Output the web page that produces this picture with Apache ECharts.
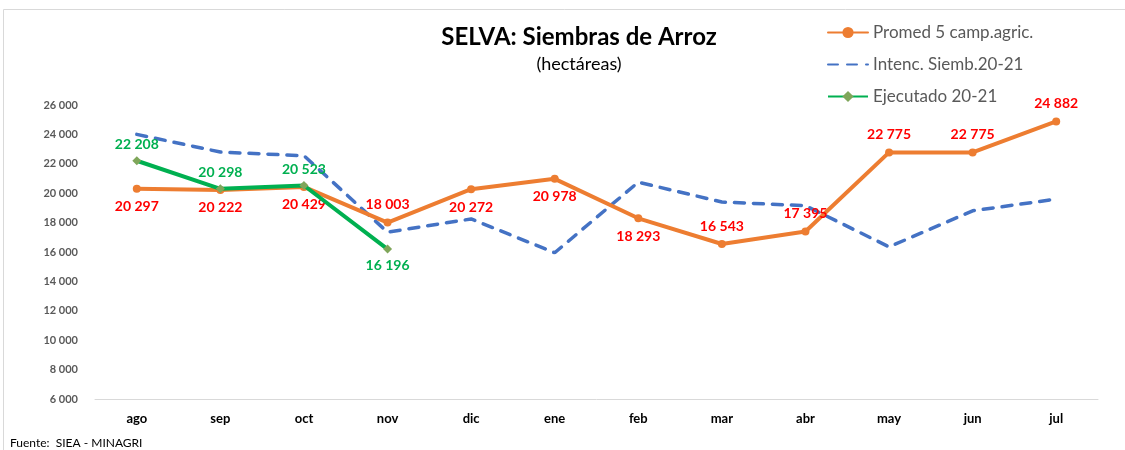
<!DOCTYPE html>
<html>
<head>
<meta charset="utf-8">
<script src="https://cdn.jsdelivr.net/npm/echarts@6/dist/echarts.min.js"></script>
<style>
html,body{margin:0;padding:0;background:#fff;}
#main{width:1125px;height:450px;}
</style>
</head>
<body>
<div id="main"></div>
<script>
var meses = ['ago','sep','oct','nov','dic','ene','feb','mar','abr','may','jun','jul'];
var promedio = [20297,20222,20429,18003,20272,20978,18293,16543,17395,22775,22775,24882];
var intencion = [24000,22800,22550,17350,18250,15950,20750,19400,19150,16350,18800,19600];
var ejecutado = [22208,20298,20523,16196];

var fuente = 'Lato, "Noto Sans", sans-serif';
function miles(v){ return String(Math.round(v)).replace(/\B(?=(\d{3})+(?!\d))/g,' '); }

var myChart = echarts.init(document.getElementById('main'));

// etiquetas arriba / abajo como en el original
var promArriba = {3:1,7:1,8:1,9:1,10:1,11:1};
var promData = promedio.map(function(v,i){
    return {value:v, label:{position: promArriba[i] ? 'top' : 'bottom'}};
});
var ejecData = ejecutado.map(function(v,i){
    return {value:v, label:{position: i==3 ? 'bottom' : 'top'}};
});

var option = {
    backgroundColor:'#fff',
    animation:false,
    textStyle:{fontFamily:fuente},
    title:{
        text:'SELVA: Siembras de Arroz',
        subtext:'(hectáreas)',
        left:574, top:20, textAlign:'center',
        itemGap:6,
        textStyle:{fontSize:24,fontWeight:'bold',color:'#000',fontFamily:fuente},
        subtextStyle:{fontSize:18,color:'#000',fontFamily:fuente}
    },
    legend:{
        orient:'vertical',
        left:822, top:19,
        itemWidth:40, itemHeight:14, itemGap:15,
        textStyle:{fontSize:17,color:'#595959',fontFamily:fuente},
        data:['Promed 5 camp.agric.',
              {name:'Intenc. Siemb.20-21',itemStyle:{opacity:0}},
              'Ejecutado 20-21']
    },
    grid:{left:95,right:27,top:105,bottom:51},
    xAxis:{
        type:'category',
        data:meses,
        boundaryGap:true,
        axisLine:{lineStyle:{color:'#d9d9d9'}},
        axisTick:{inside:true,length:4,lineStyle:{color:'#d9d9d9'}},
        axisLabel:{fontSize:13,fontWeight:'bold',color:'#000',margin:13}
    },
    yAxis:{
        type:'value',
        min:6000,max:26000,interval:2000,
        splitLine:{show:false},
        axisLine:{show:false},
        axisTick:{show:false},
        axisLabel:{fontSize:11,fontWeight:'bold',color:'#595959',margin:17,formatter:miles}
    },
    graphic:[
        {type:'rect',shape:{x:3.5,y:9.5,width:1130,height:460},
         style:{fill:'none',stroke:'#d9d9d9',lineWidth:1},silent:true},
        {type:'text',left:10,top:437,
         style:{text:'Fuente:  SIEA - MINAGRI',fontSize:12,fill:'#000',fontFamily:fuente}}
    ],
    series:[
        {
            name:'Promed 5 camp.agric.',
            type:'line',
            data:promData,
            symbol:'circle',symbolSize:8,
            lineStyle:{width:4,color:'#ED7D31',cap:'round'},
            itemStyle:{color:'#ED7D31'},
            label:{show:true,fontSize:14,fontWeight:'bold',color:'#FF0000',distance:7,formatter:function(p){return miles(p.value);}},
            z:3
        },
        {
            name:'Intenc. Siemb.20-21',
            type:'line',
            data:intencion,
            symbol:'none',
            lineStyle:{width:3.5,color:'#4472C4',type:[10,9],cap:'round'},
            itemStyle:{color:'#4472C4'},
            z:2
        },
        {
            name:'Ejecutado 20-21',
            type:'line',
            data:ejecData,
            symbol:'diamond',symbolSize:9,
            lineStyle:{width:4,color:'#00B050'},
            itemStyle:{color:'#7FA65A'},
            label:{show:true,fontSize:14,fontWeight:'bold',color:'#00B050',distance:5,formatter:function(p){return miles(p.value);}},
            z:4
        }
    ]
};

myChart.setOption(option);
</script>
</body>
</html>
